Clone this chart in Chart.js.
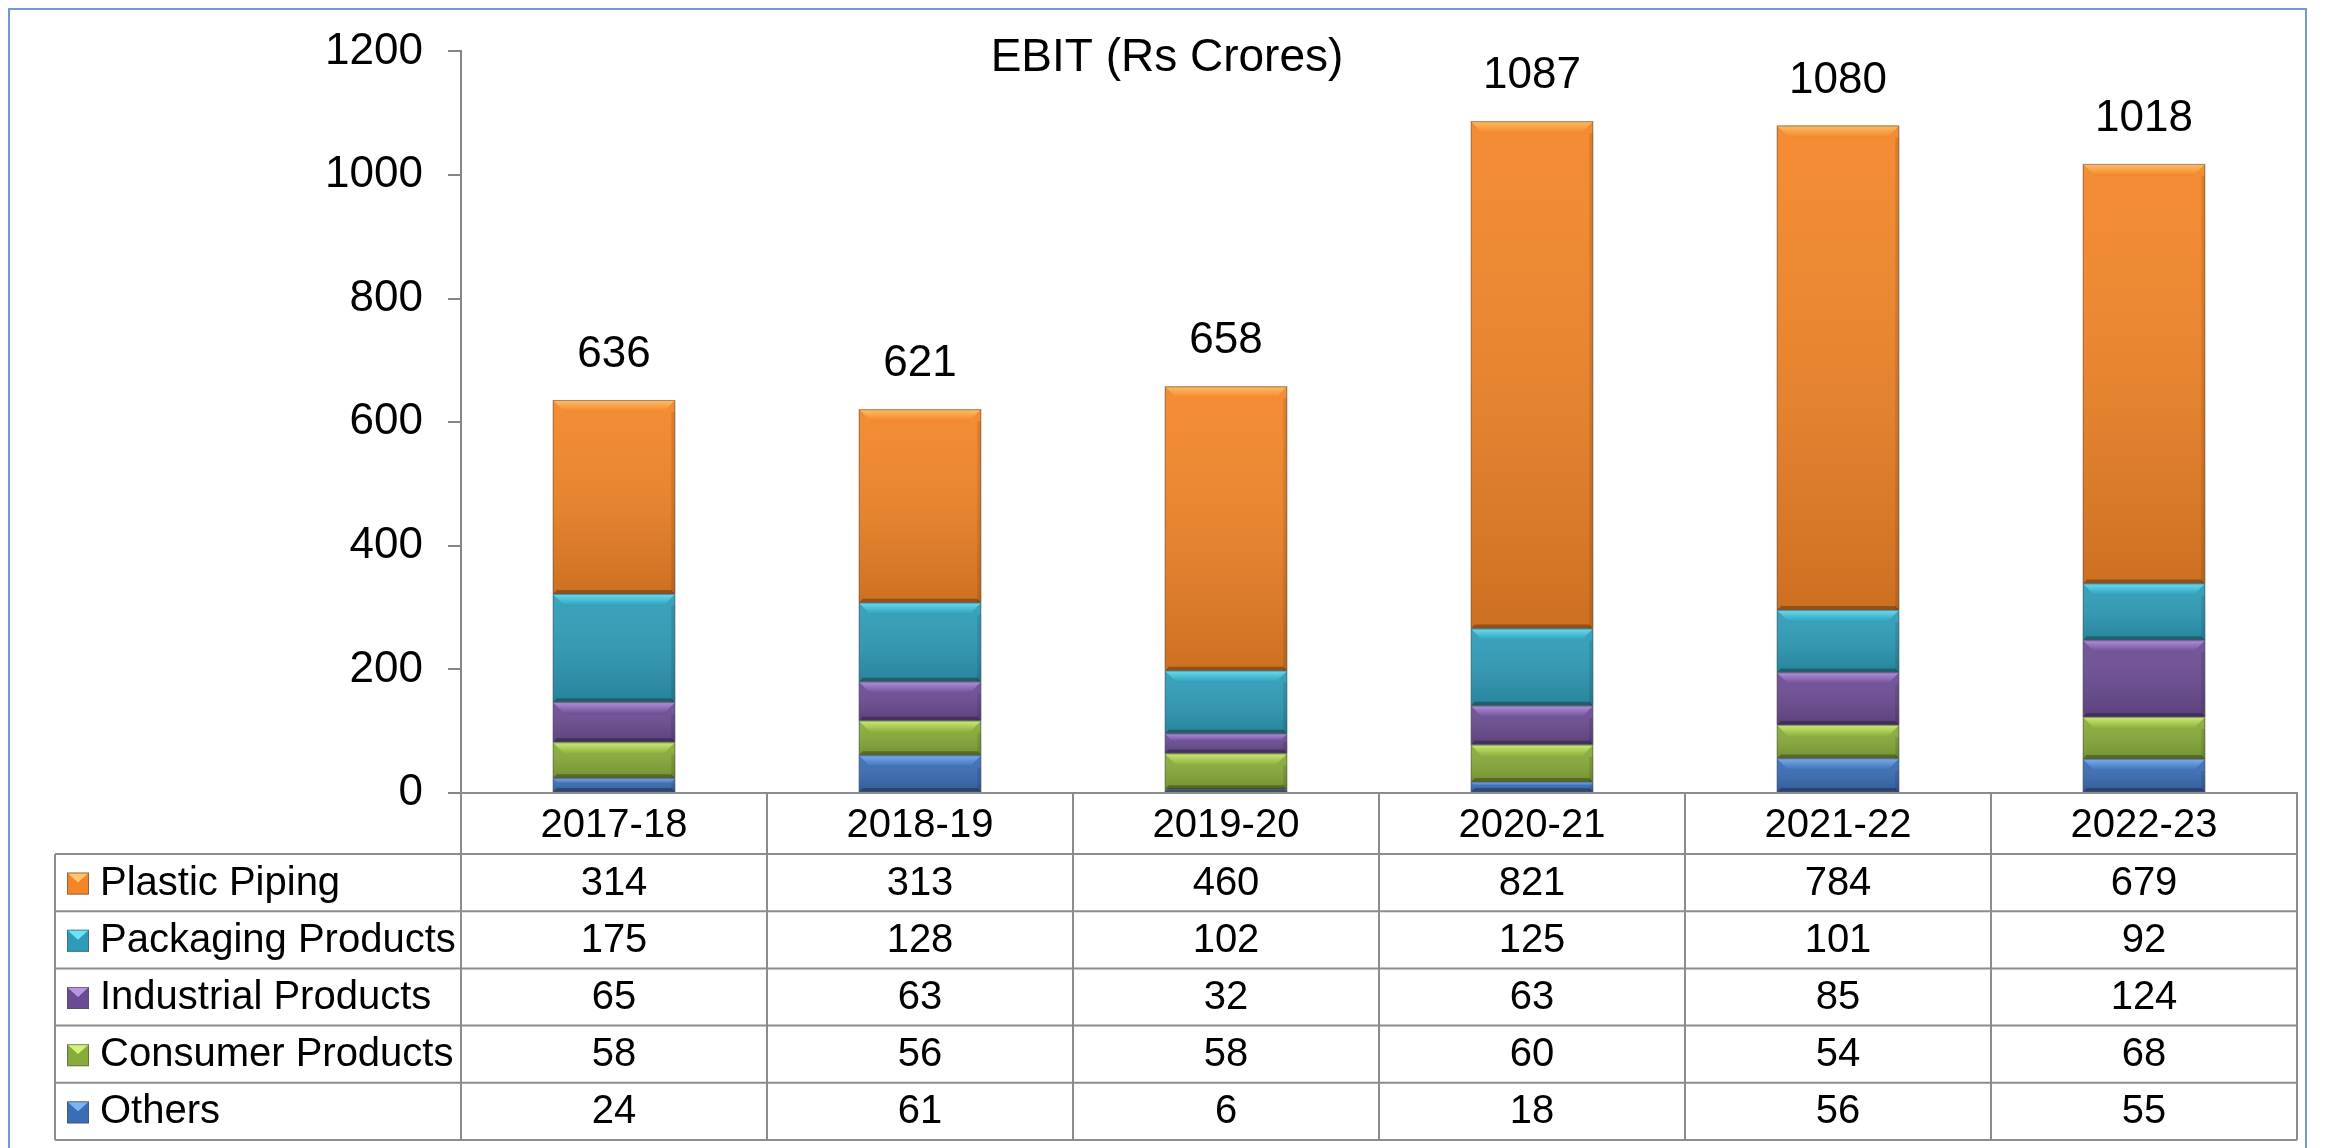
<!DOCTYPE html>
<html>
<head>
<meta charset="utf-8">
<script src="https://cdn.jsdelivr.net/npm/chart.js@4"></script>
<style>
  html, body { margin: 0; padding: 0; background: #fff; }
  #wrap { width: 2335px; height: 1148px; }
</style>
</head>
<body>
<div id="wrap"><canvas id="ebitChart" width="2335" height="1148"></canvas></div>
<script>
// Data
var years = ["2017-18", "2018-19", "2019-20", "2020-21", "2021-22", "2022-23"];
var plasticPiping = [314, 313, 460, 821, 784, 679];
var packagingProducts = [175, 128, 102, 125, 101, 92];
var industrialProducts = [65, 63, 32, 63, 85, 124];
var consumerProducts = [58, 56, 58, 60, 54, 68];
var others = [24, 61, 6, 18, 56, 55];
var yTicks = [0, 200, 400, 600, 800, 1000, 1200];

var FONT = "'Liberation Sans', Arial, sans-serif";

// stacked from bottom to top
var series = [
    { name: "Others", data: others, color: "#3A6DB5", light: "#7FB4F2" },
    { name: "Consumer Products", data: consumerProducts, color: "#88AC3A", light: "#D4F27A" },
    { name: "Industrial Products", data: industrialProducts, color: "#6B4C93", light: "#B796E4" },
    { name: "Packaging Products", data: packagingProducts, color: "#2E9CB8", light: "#6BE4F8" },
    { name: "Plastic Piping", data: plasticPiping, color: "#F38527", light: "#FFC46E" }
];

function totals() {
    return years.map(function (_, i) {
        return series.reduce(function (s, d) { return s + d.data[i]; }, 0);
    });
}

// bevel look on each bar segment
var bevelPlugin = {
    id: "bevel",
    afterDatasetsDraw: function (chart) {
        var ctx = chart.ctx;
        chart.data.datasets.forEach(function (ds, di) {
            var meta = chart.getDatasetMeta(di);
            meta.data.forEach(function (bar) {
                var l = bar.x - bar.width / 2, r = bar.x + bar.width / 2;
                var t = Math.min(bar.y, bar.base), b = Math.max(bar.y, bar.base);
                var h = b - t;
                if (h < 1) return;
                ctx.save();
                var g = ctx.createLinearGradient(0, t, 0, b);
                g.addColorStop(0, "rgba(255,255,255,0.06)");
                g.addColorStop(1, "rgba(0,0,0,0.16)");
                ctx.fillStyle = g;
                ctx.fillRect(l, t, r - l, h);
                var k = Math.min(12, h / 2.5);
                var bg = ctx.createLinearGradient(0, t, 0, t + k);
                bg.addColorStop(0, series[di].light);
                bg.addColorStop(1, series[di].color);
                ctx.globalAlpha = 0.9;
                ctx.fillStyle = bg;
                ctx.beginPath();
                ctx.moveTo(l, t); ctx.lineTo(r, t); ctx.lineTo(r - k, t + k); ctx.lineTo(l + k, t + k);
                ctx.closePath(); ctx.fill();
                ctx.globalAlpha = 1;
                ctx.fillStyle = "rgba(0,0,0,0.28)";
                ctx.beginPath();
                ctx.moveTo(l, b); ctx.lineTo(r, b); ctx.lineTo(r - 4, b - 4); ctx.lineTo(l + 4, b - 4);
                ctx.closePath(); ctx.fill();
                ctx.fillStyle = "rgba(0,0,0,0.10)";
                ctx.fillRect(r - 4, t + k, 4, h - k);
                ctx.strokeStyle = "rgba(90,90,90,0.55)";
                ctx.lineWidth = 1;
                ctx.strokeRect(l + 0.5, t + 0.5, r - l - 1, h - 1);
                ctx.restore();
            });
        });
    }
};

// totals, title, data table and frame
var tablePlugin = {
    id: "dataTable",
    afterDraw: function (chart) {
        var ctx = chart.ctx;
        var xs = chart.scales.x, ys = chart.scales.y;
        var area = chart.chartArea;
        var colW = (area.right - area.left) / years.length;
        var sums = totals();
        ctx.save();

        // totals above bars
        ctx.fillStyle = "#000";
        ctx.font = "44px " + FONT;
        ctx.textAlign = "center";
        ctx.textBaseline = "middle";
        sums.forEach(function (v, i) {
            ctx.fillText(String(v), xs.getPixelForValue(i), ys.getPixelForValue(v) - 45);
        });

        // title
        ctx.font = "46px " + FONT;
        ctx.fillText("EBIT (Rs Crores)", 1167, 58);

        // table geometry
        var top = area.bottom;
        var headH = 61, rowH = 57.2;
        var tableLeft = 55;
        var rowsTop = top + headH;
        var bottom = rowsTop + rowH * series.length;

        ctx.strokeStyle = "#8C8C8C";
        ctx.lineWidth = 2;
        ctx.beginPath();
        ctx.moveTo(area.left, top); ctx.lineTo(area.right, top);
        for (var c = 0; c <= years.length; c++) {
            var x = area.left + c * colW;
            ctx.moveTo(x, top); ctx.lineTo(x, bottom);
        }
        ctx.moveTo(tableLeft, rowsTop); ctx.lineTo(tableLeft, bottom);
        for (var r = 0; r <= series.length; r++) {
            var y = rowsTop + r * rowH;
            ctx.moveTo(tableLeft, y); ctx.lineTo(area.right, y);
        }
        ctx.stroke();

        // header labels
        ctx.fillStyle = "#000";
        ctx.font = "40px " + FONT;
        ctx.textAlign = "center";
        years.forEach(function (yr, i) {
            ctx.fillText(yr, xs.getPixelForValue(i), top + headH / 2 + 2);
        });

        // rows: top series first
        var rows = series.slice().reverse();
        rows.forEach(function (s, ri) {
            var cy = rowsTop + ri * rowH + rowH / 2 + 1;
            var mx = 67, my = cy - 11, ms = 22;
            ctx.fillStyle = s.color;
            ctx.fillRect(mx, my, ms, ms);
            ctx.fillStyle = s.light;
            ctx.beginPath();
            ctx.moveTo(mx, my); ctx.lineTo(mx + ms, my); ctx.lineTo(mx + ms / 2, my + ms * 0.45);
            ctx.closePath(); ctx.fill();
            ctx.strokeStyle = "rgba(80,80,80,0.6)";
            ctx.lineWidth = 1;
            ctx.strokeRect(mx + 0.5, my + 0.5, ms - 1, ms - 1);

            ctx.fillStyle = "#000";
            ctx.textAlign = "left";
            ctx.fillText(s.name, 100, cy);
            ctx.textAlign = "center";
            s.data.forEach(function (v, i) {
                ctx.fillText(String(v), xs.getPixelForValue(i), cy);
            });
        });

        // outer frame
        ctx.strokeStyle = "#6F9BD3";
        ctx.lineWidth = 2;
        ctx.strokeRect(9, 9, 2297, 1150);
        ctx.restore();
    }
};

document.addEventListener("DOMContentLoaded", function () {
    var ctx = document.getElementById("ebitChart").getContext("2d");
    var ebitChart = new Chart(ctx, {
        type: "bar",
        data: {
            labels: years,
            datasets: series.map(function (s) {
                return {
                    label: s.name,
                    data: s.data,
                    backgroundColor: s.color,
                    borderWidth: 0,
                    categoryPercentage: 1,
                    barPercentage: 0.4
                };
            })
        },
        options: {
            responsive: false,
            animation: false,
            layout: { padding: { left: 0, top: 43, right: 38, bottom: 0 } },
            plugins: {
                legend: { display: false },
                title: { display: false },
                tooltip: { enabled: false }
            },
            scales: {
                x: {
                    stacked: true,
                    grid: { display: false },
                    border: { color: "#868686", width: 2 },
                    ticks: { display: false },
                    afterFit: function (s) { s.height = 1148 - 793; }
                },
                y: {
                    stacked: true,
                    min: 0,
                    max: 1200,
                    afterBuildTicks: function (s) {
                        s.ticks = yTicks.map(function (v) { return { value: v }; });
                    },
                    grid: {
                        drawOnChartArea: false,
                        drawTicks: true,
                        tickLength: 13,
                        color: "#868686",
                        lineWidth: 2
                    },
                    border: { color: "#868686", width: 2 },
                    ticks: {
                        padding: 25,
                        color: "#000",
                        font: { family: FONT, size: 44 },
                        callback: function (v) { return String(v); }
                    },
                    afterFit: function (s) { s.width = 461; }
                }
            }
        },
        plugins: [bevelPlugin, tablePlugin]
    });
});
</script>
</body>
</html>
